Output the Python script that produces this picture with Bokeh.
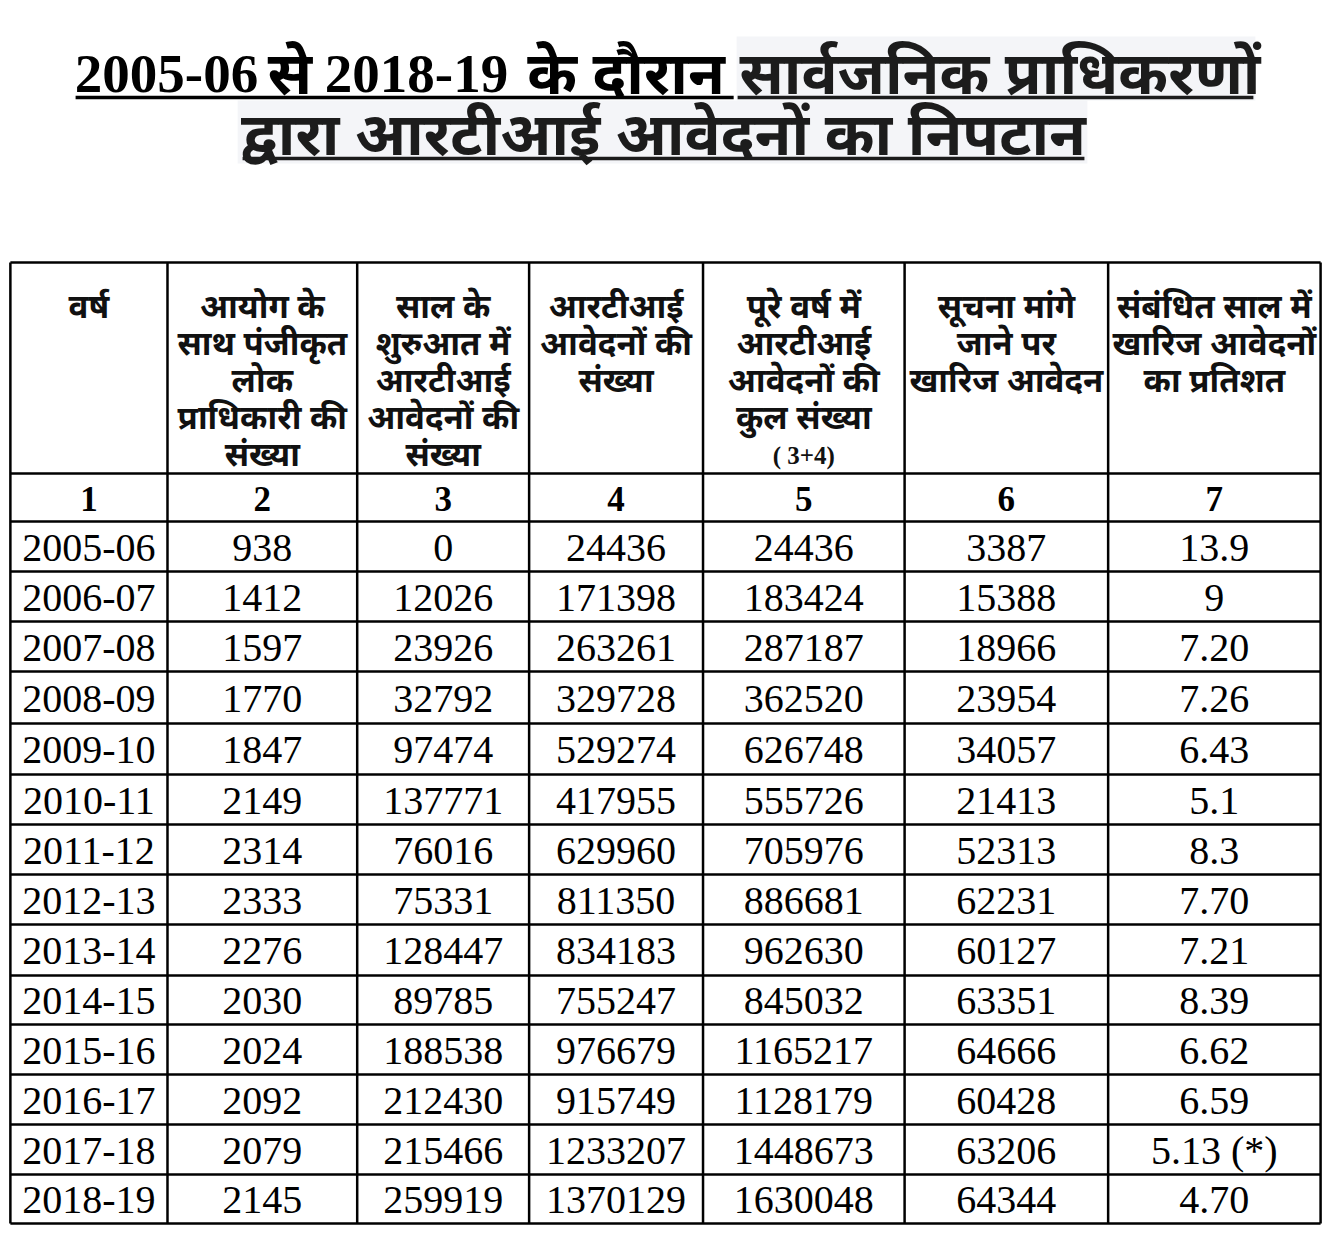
from bokeh.plotting import figure
from bokeh.models import Range1d, ColumnDataSource
from bokeh.core.properties import value
from bokeh.embed import file_html
from bokeh.resources import INLINE

# ---------------- data ----------------
years = ["2005-06", "2006-07", "2007-08", "2008-09", "2009-10", "2010-11", "2011-12",
         "2012-13", "2013-14", "2014-15", "2015-16", "2016-17", "2017-18", "2018-19"]
authorities = [938, 1412, 1597, 1770, 1847, 2149, 2314, 2333, 2276, 2030, 2024, 2092, 2079, 2145]
pending_start = [0, 12026, 23926, 32792, 97474, 137771, 76016, 75331, 128447, 89785,
                 188538, 212430, 215466, 259919]
received = [24436, 171398, 263261, 329728, 529274, 417955, 629960, 811350, 834183, 755247,
            976679, 915749, 1233207, 1370129]
total = [24436, 183424, 287187, 362520, 626748, 555726, 705976, 886681, 962630, 845032,
         1165217, 1128179, 1448673, 1630048]
rejected = [3387, 15388, 18966, 23954, 34057, 21413, 52313, 62231, 60127, 63351,
            64666, 60428, 63206, 64344]
reject_pct = ["13.9", "9", "7.20", "7.26", "6.43", "5.1", "8.3", "7.70", "7.21", "8.39",
              "6.62", "6.59", "5.13 (*)", "4.70"]

headers = [
    ["वर्ष"],
    ["आयोग के", "साथ पंजीकृत", "लोक", "प्राधिकारी की", "संख्या"],
    ["साल के", "शुरुआत में", "आरटीआई", "आवेदनों की", "संख्या"],
    ["आरटीआई", "आवेदनों की", "संख्या"],
    ["पूरे वर्ष में", "आरटीआई", "आवेदनों की", "कुल संख्या"],
    ["सूचना मांगे", "जाने पर", "खारिज आवेदन"],
    ["संबंधित साल में", "खारिज आवेदनों", "का प्रतिशत"],
]
header_note = "( 3+4)"
col_numbers = ["1", "2", "3", "4", "5", "6", "7"]

title_years = ["2005-06", "2018-19"]
title_words = ["से", "के दौरान"]
title_part2 = "सार्वजनिक प्राधिकरणों"
title_line2 = "द्वारा आरटीआई आवेदनों का निपटान"

# ---------------- layout ----------------
W, H = 1327, 1238
RW = 1343
col_edges = [10, 169, 361, 535, 711, 915, 1121, 1336]
table_top, head_bottom = 262, 473
row_edges = [521, 571, 621, 671, 723, 774, 824, 874, 924, 975, 1024, 1074, 1124, 1174, 1223]

p = figure(width=W, height=H, output_backend="svg", toolbar_location=None,
           x_range=Range1d(0, RW), y_range=Range1d(H, 0),
           min_border=0, outline_line_color=None)
p.axis.visible = False
p.grid.visible = False
p.background_fill_color = "white"
p.border_fill_color = "white"

# title highlight boxes
p.quad(left=[745, 240], right=[1270, 1100], top=[36, 100], bottom=[100, 163],
       fill_color="#f4f5f8", line_color=None)

DEV = "Noto Sans"
DARK = "#1c1c1c"
# line 1, pieces
p.text(x=[168, 421], y=[73, 73], text=title_years, text_font=value("Liberation Serif"),
       text_font_size="55px", text_font_style="bold", text_align="center",
       text_baseline="middle", text_color="black")
p.text(x=[293, 533], y=[70, 70], text=title_words, text_font=value(DEV),
       text_font_size="60px", text_font_style="bold", text_align=["center", "left"],
       text_baseline="middle", text_color="black")
p.text(x=[748], y=[70], text=[title_part2], text_font=value(DEV),
       text_font_size="60px", text_font_style="bold", text_align="left",
       text_baseline="middle", text_color=DARK)
p.text(x=[671], y=[131], text=[title_line2], text_font=value(DEV),
       text_font_size="60px", text_font_style="bold", text_align="center",
       text_baseline="middle", text_color=DARK)
p.segment(x0=[76, 746, 245], x1=[742, 1268, 1097], y0=[97, 97, 158], y1=[97, 97, 158],
          line_color=["black", DARK, DARK], line_width=3.5)

# table lines
xs0, xs1, ys0, ys1 = [], [], [], []
for y in [table_top, head_bottom] + row_edges:
    xs0.append(col_edges[0]); xs1.append(col_edges[-1]); ys0.append(y); ys1.append(y)
for x in col_edges:
    xs0.append(x); xs1.append(x); ys0.append(table_top); ys1.append(row_edges[-1])
p.segment(x0=xs0, x1=xs1, y0=ys0, y1=ys1, line_color="black", line_width=2.5)

centers = [(col_edges[i] + col_edges[i + 1]) / 2 for i in range(7)]

# header text
hx, hy, ht = [], [], []
for i, lines in enumerate(headers):
    for j, t in enumerate(lines):
        hx.append(centers[i]); hy.append(305 + 37 * j); ht.append(t)
p.text(x=hx, y=hy, text=ht, text_font=value(DEV), text_font_size="33px",
       text_font_style="bold", text_align="center", text_baseline="middle", text_color="#111111")
p.text(x=[centers[4]], y=[455], text=[header_note], text_font=value("Liberation Serif"),
       text_font_size="25px", text_font_style="bold", text_align="center",
       text_baseline="middle", text_color="#111111")

# column numbers
p.text(x=centers, y=[(head_bottom + row_edges[0]) / 2 + 1] * 7, text=col_numbers,
       text_font=value("Liberation Serif"), text_font_size="35px", text_font_style="bold",
       text_align="center", text_baseline="middle", text_color="black")

# data cells
cols = [years, [str(v) for v in authorities], [str(v) for v in pending_start],
        [str(v) for v in received], [str(v) for v in total], [str(v) for v in rejected],
        reject_pct]
dx, dy, dt = [], [], []
for i, col in enumerate(cols):
    for r, t in enumerate(col):
        dx.append(centers[i]); dy.append((row_edges[r] + row_edges[r + 1]) / 2 + 1); dt.append(t)
src = ColumnDataSource(dict(x=dx, y=dy, t=dt))
p.text(x="x", y="y", text="t", source=src, text_font=value("Liberation Serif"),
       text_font_size="40px", text_align="center", text_baseline="middle", text_color="black")

open("out.html", "w").write(file_html(p, INLINE))
